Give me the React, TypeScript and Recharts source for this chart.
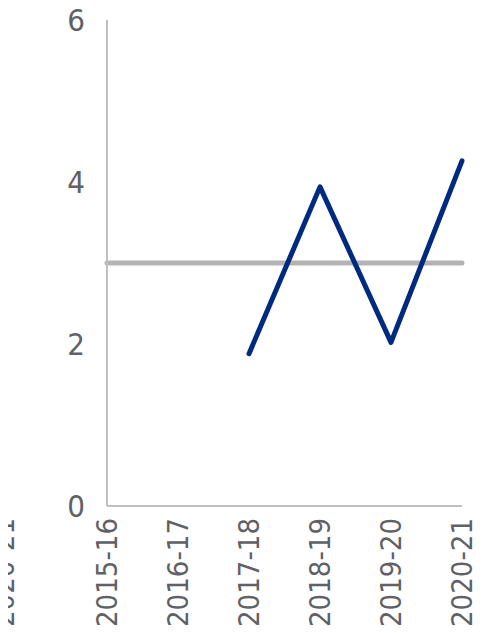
import { LineChart, Line, XAxis, YAxis } from 'recharts';

const categories = ['2015-16', '2016-17', '2017-18', '2018-19', '2019-20', '2020-21'];
const benchmark = [3, 3, 3, 3, 3, 3];
const actual: (number | null)[] = [null, null, 1.88, 3.94, 2.02, 4.26];
const yTicks = [0, 2, 4, 6];
const strayLabel = '2020-21';

const FONT = '"DejaVu Sans Condensed", "DejaVu Sans", sans-serif';
const TEXT = '#5f6166';

const data = categories.map((c, i) => ({ name: c, benchmark: benchmark[i], actual: actual[i] }));

function RotatedTick(props: any) {
  const { x, y, payload } = props;
  return (
    <text
      transform={`translate(${x},${y}) rotate(-90)`}
      textAnchor="end"
      dominantBaseline="central"
      fill={TEXT}
      fontSize={29}
      fontFamily={FONT}
    >
      {payload.value}
    </text>
  );
}

export default function App() {
  return (
    <div style={{ position: 'relative', width: 497, height: 633, margin: -8, overflow: 'hidden', background: '#fff' }}>
      {/* label of the neighbouring panel, cut by the left edge */}
      <svg width={497} height={633} style={{ position: 'absolute', left: 0, top: 0 }}>
        <text
          transform="translate(4,518) rotate(-90)"
          textAnchor="end"
          dominantBaseline="central"
          fill={TEXT}
          fontSize={29}
          fontFamily={FONT}
        >
          {strayLabel}
        </text>
      </svg>
      <div style={{ position: 'absolute', left: 0, top: 0 }}>
        <LineChart width={497} height={633} data={data} margin={{ top: 20, right: 35, bottom: 7, left: 0 }}>
          <XAxis
            dataKey="name"
            scale="point"
            padding={{ left: 0, right: 0 }}
            height={120}
            interval={0}
            tickLine={false}
            tickSize={0}
            tickMargin={12}
            axisLine={{ stroke: '#c0c0c0', strokeWidth: 2 }}
            tick={<RotatedTick />}
          />
          <YAxis
            domain={[0, 6]}
            ticks={yTicks}
            width={107}
            tickLine={false}
            tickSize={0}
            tickMargin={22}
            axisLine={{ stroke: '#c0c0c0', strokeWidth: 2 }}
            tick={{ fill: TEXT, fontSize: 31, fontFamily: FONT }}
          />
          <Line
            dataKey="benchmark"
            stroke="#b3b3b3"
            strokeWidth={5}
            strokeLinecap="round"
            dot={false}
            isAnimationActive={false}
          />
          <Line
            dataKey="actual"
            stroke="#002a7f"
            strokeWidth={5}
            strokeLinecap="round"
            strokeLinejoin="round"
            dot={false}
            isAnimationActive={false}
          />
        </LineChart>
      </div>
    </div>
  );
}
